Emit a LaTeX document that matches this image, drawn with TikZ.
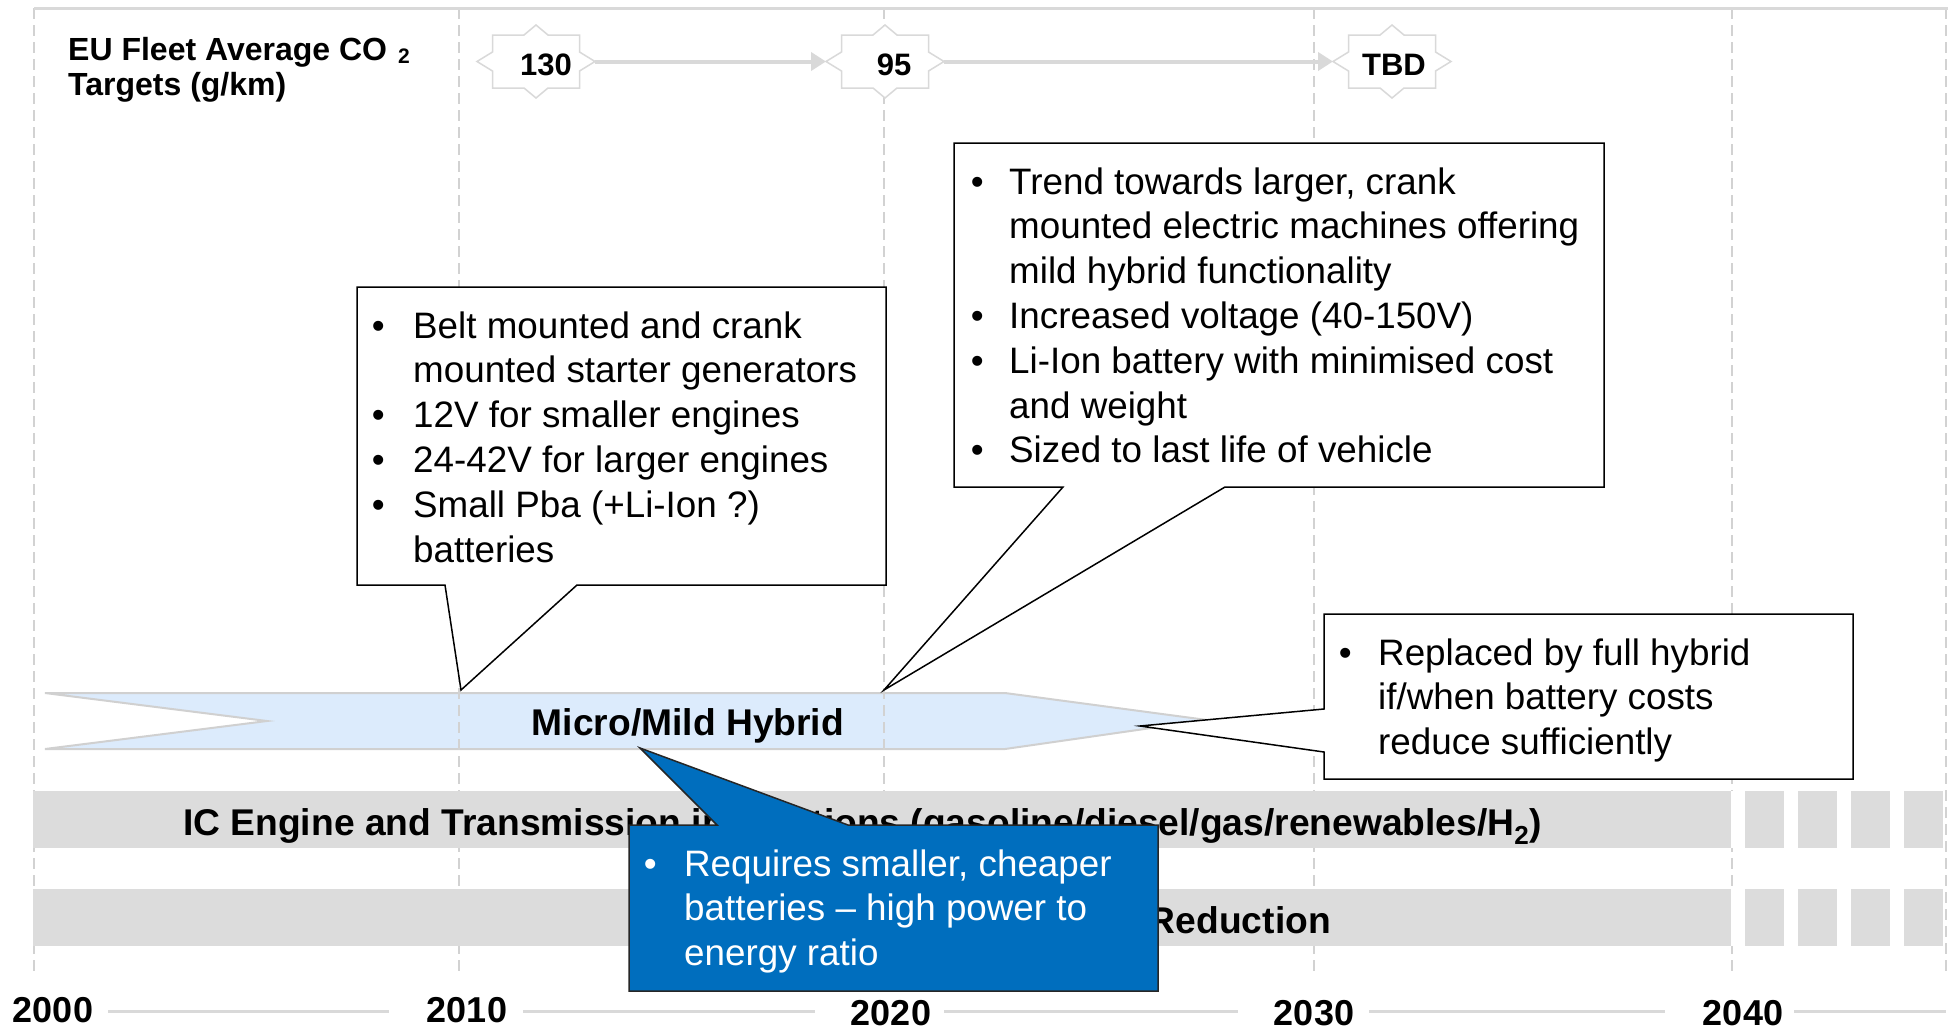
\documentclass[tikz,border=0pt]{standalone}
\usepackage{fontspec}
\setmainfont{Liberation Sans}
\usetikzlibrary{calc,arrows.meta}
\newlength\bulw
\newcommand{\bi}{\makebox[\bulw][l]{\textbullet}}
\newcommand{\ci}{\hspace*{\bulw}}
\definecolor{framegray}{RGB}{217,217,217}
\definecolor{dashgray}{RGB}{210,210,210}
\definecolor{bargray}{RGB}{220,220,220}
\definecolor{hybfill}{RGB}{220,235,252}
\definecolor{hybedge}{RGB}{208,208,208}
\definecolor{calblue}{RGB}{0,110,190}
\newcommand{\costar}[1]{\filldraw[starshape, shift={(#1)}] (-59,0) -- (-43.5,-9.5) -- (-43.5,-26.5) -- (-12,-26.5) -- (0,-36.5) -- (12,-26.5) -- (43.5,-26.5) -- (43.5,-9.5) -- (59,0) -- (43.5,9.5) -- (43.5,26.5) -- (12,26.5) -- (0,36.5) -- (-12,26.5) -- (-43.5,26.5) -- (-43.5,9.5) -- cycle;}
\begin{document}
\begin{tikzpicture}[x=1pt,y=-1pt,
  topline/.style={draw=framegray, line width=3pt},
  vdashline/.style={draw=dashgray, line width=2pt, dash pattern=on 11pt off 6pt},
  bar/.style={fill=bargray},
  stripe/.style={fill=white},
  hybrid/.style={fill=hybfill, draw=hybedge, line width=2pt},
  starshape/.style={draw=framegray, fill=white, line width=1.5pt},
  startext/.style={font=\fontsize{31}{36}\selectfont\bfseries, anchor=base, inner sep=0},
  target/.style={draw=framegray, line width=4pt, -{Triangle[length=15pt,width=18pt]}},
  titletext/.style={font=\fontsize{32}{35}\selectfont\bfseries, anchor=base west, inner sep=0},
  bandtext/.style={font=\fontsize{37.2}{44}\selectfont\bfseries, inner sep=0},
  yeartext/.style={font=\fontsize{36}{40}\selectfont\bfseries, anchor=base, inner sep=0},
  axisline/.style={draw=framegray, line width=3pt},
  callout/.style={draw=black, fill=white, line width=1.5pt, line join=miter},
  bluecallout/.style={draw=black!85, fill=calblue, line width=1.5pt},
  calltext/.style={font=\fontsize{36.8}{44.8}\selectfont, anchor=base west, inner sep=0},
]
\useasboundingbox (0,0) rectangle (1957,1029);
\fill[white] (0,0) rectangle (1957,1029);

% hybrid band
\filldraw[hybrid] (45,693) -- (1005,693) -- (1207,720) -- (1005,749) -- (45,749) -- (267,721) -- cycle;

% frame and decade lines
\foreach \vx in {34,459,884,1314,1732,1946} \draw[vdashline] (\vx,8) -- (\vx,975);
\draw[topline] (34,8) -- (1948,8);

% grey bands
\fill[bar] (33,791) rectangle (1943,848);
\fill[bar] (33,889) rectangle (1943,946);
\foreach \sx in {1731,1784,1837,1890} {
  \fill[stripe] (\sx,791) rectangle ++(14,57);
  \fill[stripe] (\sx,889) rectangle ++(14,57);
}
\node[bandtext, anchor=base west] (ictext) at (183,835) {IC Engine and Transmission innovations (gasoline/diesel/gas/renewables/H\textsubscript{2})};
\node[bandtext, anchor=base east] (redtext) at (1331,933) {Reduction};
\node[bandtext, anchor=base] (hybtext) at (688,735) {Micro/Mild Hybrid};

% CO2 targets
\node[titletext] (title1) at (68,60) {EU Fleet Average CO \hspace{2pt}\raisebox{-3pt}{\fontsize{21}{21}\selectfont 2}};
\node[titletext] (title2) at (68,95) {Targets (g/km)};
\coordinate (s130) at (536,61.5);
\coordinate (s95) at (885,61.5);
\coordinate (sTBD) at (1392,61.5);
\costar{s130}
\costar{s95}
\costar{sTBD}
\node[startext] (t130) at (546,75) {130};
\node[startext] (t95) at (894,75) {95};
\node[startext] (tTBD) at (1394,75) {TBD};
\draw[target] ([xshift=59pt]s130) -- ([xshift=-59pt]s95);
\draw[target] ([xshift=59pt]s95) -- ([xshift=-59pt]sTBD);

% time axis
\draw[axisline] (108,1011) -- (389,1011);
\draw[axisline] (523,1011) -- (815,1011);
\draw[axisline] (944,1011) -- (1238,1011);
\draw[axisline] (1369,1011) -- (1665,1011);
\draw[axisline] (1794,1011) -- (1946,1011);
\node[yeartext] (y2000) at (53,1022) {2000};
\node[yeartext] (y2010) at (467,1022) {2010};
\node[yeartext] (y2020) at (891,1025) {2020};
\node[yeartext] (y2030) at (1314,1025) {2030};
\node[yeartext] (y2040) at (1743,1025) {2040};

% callout 1
\filldraw[callout] (357,287) -- (886,287) -- (886,585) -- (577,585) -- (461,690) -- (445,585) -- (357,585) -- cycle;
\node[calltext] (c1text) at (371.6,338) {\setlength\bulw{41.4pt}\parbox[t]{800pt}{\raggedright
\bi Belt mounted and crank\\
\ci mounted starter generators\\
\bi 12V for smaller engines\\
\bi 24-42V for larger engines\\
\bi Small Pba (+Li-Ion ?)\\
\ci batteries}};

% callout 2
\filldraw[callout] (954,143) -- (1604,143) -- (1604,487) -- (1225,487) -- (884,690) -- (1063,487) -- (954,487) -- cycle;
\node[calltext] (c2text) at (970.6,194) {\setlength\bulw{38.4pt}\parbox[t]{800pt}{\raggedright
\bi Trend towards larger, crank\\
\ci mounted electric machines offering\\
\ci mild hybrid functionality\\
\bi Increased voltage (40-150V)\\
\bi Li-Ion battery with minimised cost\\
\ci and weight\\
\bi Sized to last life of vehicle}};

% callout 3
\filldraw[callout] (1324,614) -- (1853,614) -- (1853,779) -- (1324,779) -- (1324,752) -- (1140,726) -- (1324,709) -- cycle;
\node[calltext] (c3text) at (1338.6,665) {\setlength\bulw{39.4pt}\parbox[t]{800pt}{\raggedright
\bi Replaced by full hybrid\\
\ci if/when battery costs\\
\ci reduce sufficiently}};

% blue callout
\filldraw[bluecallout] (629,825) -- (717,825) -- (640,748) -- (848,825) -- (1158,825) -- (1158,991) -- (629,991) -- cycle;
\node[calltext, text=white] (c4text) at (643.6,876) {\setlength\bulw{40.4pt}\parbox[t]{800pt}{\raggedright
\bi Requires smaller, cheaper\\
\ci batteries -- high power to\\
\ci energy ratio}};
\end{tikzpicture}
\end{document}
